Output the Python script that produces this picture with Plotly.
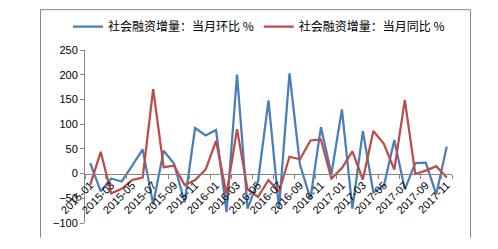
import plotly.graph_objects as go

months = ["2015-01","2015-02","2015-03","2015-04","2015-05","2015-06","2015-07","2015-08","2015-09","2015-10","2015-11","2015-12",
          "2016-01","2016-02","2016-03","2016-04","2016-05","2016-06","2016-07","2016-08","2016-09","2016-10","2016-11","2016-12",
          "2017-01","2017-02","2017-03","2017-04","2017-05","2017-06","2017-07","2017-08","2017-09","2017-10","2017-11"]
mom = [21, -36, -10, -16, 16, 49, -62, 46, 20, -58,
       92, 77, 88, -78, 200, -71, -16, 148, -71, 203,
       18, -51, 94, -1, 130, -71, 86, -38, -25, 68,
       -32, 21, 22, -42, 55]
yoy = [-23, 44, -40, -31, -13, -8, 171, 13, 16, -23,
       -13, 8, 66, -42, 90, -32, -47, -13, -37, 34,
       29, 67, 69, -10, 11, 45, -12, 86, 60, 8,
       149, -1, 6, 15, -8]
name_mom = "社会融资增量：当月环比 %"
name_yoy = "社会融资增量：当月同比 %"
tick_vals = months[::2]
y_ticks = [-100, -50, 0, 50, 100, 150, 200, 250]

W, H = 498, 249
ml, mr, mt, mb = 85, 46, 45, 26
pw, ph = W - ml - mr, H - mt - mb
def px_x(p): return (p - ml) / pw
def px_y(p): return (H - mb - p) / ph

fig = go.Figure()
fig.add_trace(go.Scatter(x=months, y=mom, mode="lines", name=name_mom,
                         line=dict(color="#4A7EBB", width=2.25)))
fig.add_trace(go.Scatter(x=months, y=yoy, mode="lines", name=name_yoy,
                         line=dict(color="#BE4B48", width=2.25)))

ymin, ymax = -100, 250
fig.update_layout(
    width=W, height=H, margin=dict(l=ml, r=mr, t=mt, b=mb),
    paper_bgcolor="white", plot_bgcolor="white",
    font=dict(family="Liberation Sans, Arial, sans-serif", size=11, color="#000000"),
    showlegend=True,
    legend=dict(orientation="h", x=px_x(68), xanchor="left", y=px_y(21), yanchor="middle",
                font=dict(family="Noto Sans CJK SC", size=12, color="#000000"),
                itemwidth=30, bgcolor="rgba(0,0,0,0)", tracegroupgap=0),
    xaxis=dict(type="category", range=[-0.5, len(months) - 0.5], tickmode="array",
               tickvals=tick_vals, ticktext=tick_vals, tickangle=-45,
               anchor="free", position=(0 - ymin) / (ymax - ymin),
               showline=True, linecolor="#868686", linewidth=1,
               ticks="outside", ticklen=4, tickcolor="#868686", tickson="boundaries",
               showgrid=False, zeroline=False,
               tickfont=dict(family="Liberation Sans, Arial", size=11, color="#000000")),
    yaxis=dict(range=[ymin, ymax], tickvals=y_ticks, showline=True, linecolor="#868686",
               linewidth=1, ticks="outside", ticklen=4, tickcolor="#868686",
               showgrid=False, zeroline=False,
               tickfont=dict(family="Liberation Sans, Arial", size=11, color="#000000")),
)

# chart-area border (left, top, right)
bx0, bx1, by0, by1 = px_x(40.5), px_x(470.5), px_y(238), px_y(3.5)
for (x0, y0, x1, y1) in [(bx0, by0, bx0, by1), (bx0, by1, bx1, by1), (bx1, by1, bx1, by0)]:
    fig.add_shape(type="line", xref="paper", yref="paper", x0=x0, y0=y0, x1=x1, y1=y1,
                  line=dict(color="#868686", width=1))

fig.write_html("out.html")
